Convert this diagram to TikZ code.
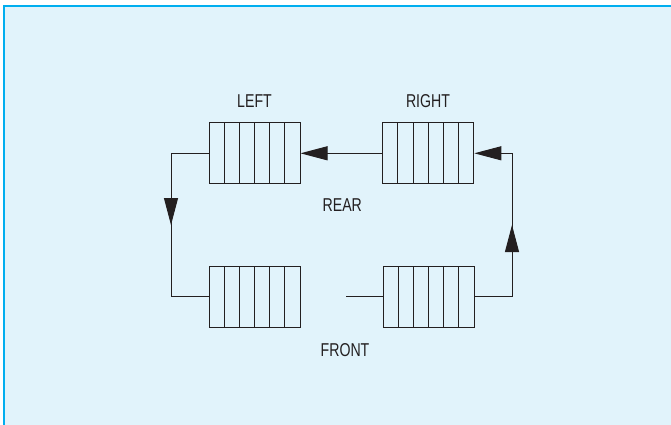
\documentclass[tikz,border=0pt]{standalone}
\usepackage{fontspec}
\setmainfont{Liberation Sans}[FakeStretch=0.76]
\usetikzlibrary{arrows.meta,calc}
\definecolor{bgblue}{HTML}{E1F3FB}
\definecolor{edgeblue}{HTML}{00AEEF}
\definecolor{ink}{HTML}{231F20}
\tikzset{
  queue/.style={draw=ink, line width=1pt, minimum width=91pt, minimum height=61pt, inner sep=0pt,
    path picture={
      \foreach \i in {1,...,5}{
        \draw[ink, line width=1pt]
          ($(path picture bounding box.north west)!\i/6!(path picture bounding box.north east)$) --
          ($(path picture bounding box.south west)!\i/6!(path picture bounding box.south east)$);
      }
    }},
  conn/.style={draw=ink, line width=1pt},
  tip/.style={-{Triangle[length=27pt,width=14pt]}},
  lbl/.style={text=ink, font=\fontsize{18.6}{20}\selectfont, inner sep=0pt}
}
\begin{document}
\begin{tikzpicture}[x=1pt,y=-1pt]
\useasboundingbox (0,0) rectangle (671,425);
\fill[white] (0,0) rectangle (671,425);
\fill[bgblue] (4,6) rectangle (671,425);
\draw[edgeblue, line width=1.6pt] (4,425) -- (4,6) -- (671,6);

\node[queue] (left) at (254.5,153.3) {};
\node[queue] (right) at (428.3,153.3) {};
\node[queue] (bl) at (254.5,296.8) {};
\node[queue] (br) at (428.5,296.8) {};

\node[lbl] (tleft) at (254.5,101) {LEFT};
\node[lbl] (tright) at (428,101) {RIGHT};
\node[lbl] (trear) at (342.3,205) {REAR};
\node[lbl] (tfront) at (345,350) {FRONT};

\coordinate (cl) at (171,153.3);
\coordinate (clb) at (171,296.8);
\coordinate (clm) at (171,225);
\coordinate (cr) at (512,153.3);
\coordinate (crb) at (512,296.8);
\coordinate (crm) at (512,225);
\coordinate (free) at (346,296.8);

% top: RIGHT -> LEFT
\draw[conn, tip] (right.west) -- (left.east);
% left loop: LEFT -> down -> bottom-left
\draw[conn] (left.west) -- (cl) -- (clb) -- (bl.west);
\draw[conn, tip] (cl) -- (clm);
% right loop: bottom-right -> up -> RIGHT
\draw[conn, tip] (br.east) -- (crb) -- (cr) -- (right.east);
\draw[conn, tip] (crb) -- (crm);
% free end into bottom-right
\draw[conn] (free) -- (br.west);
\end{tikzpicture}
\end{document}
